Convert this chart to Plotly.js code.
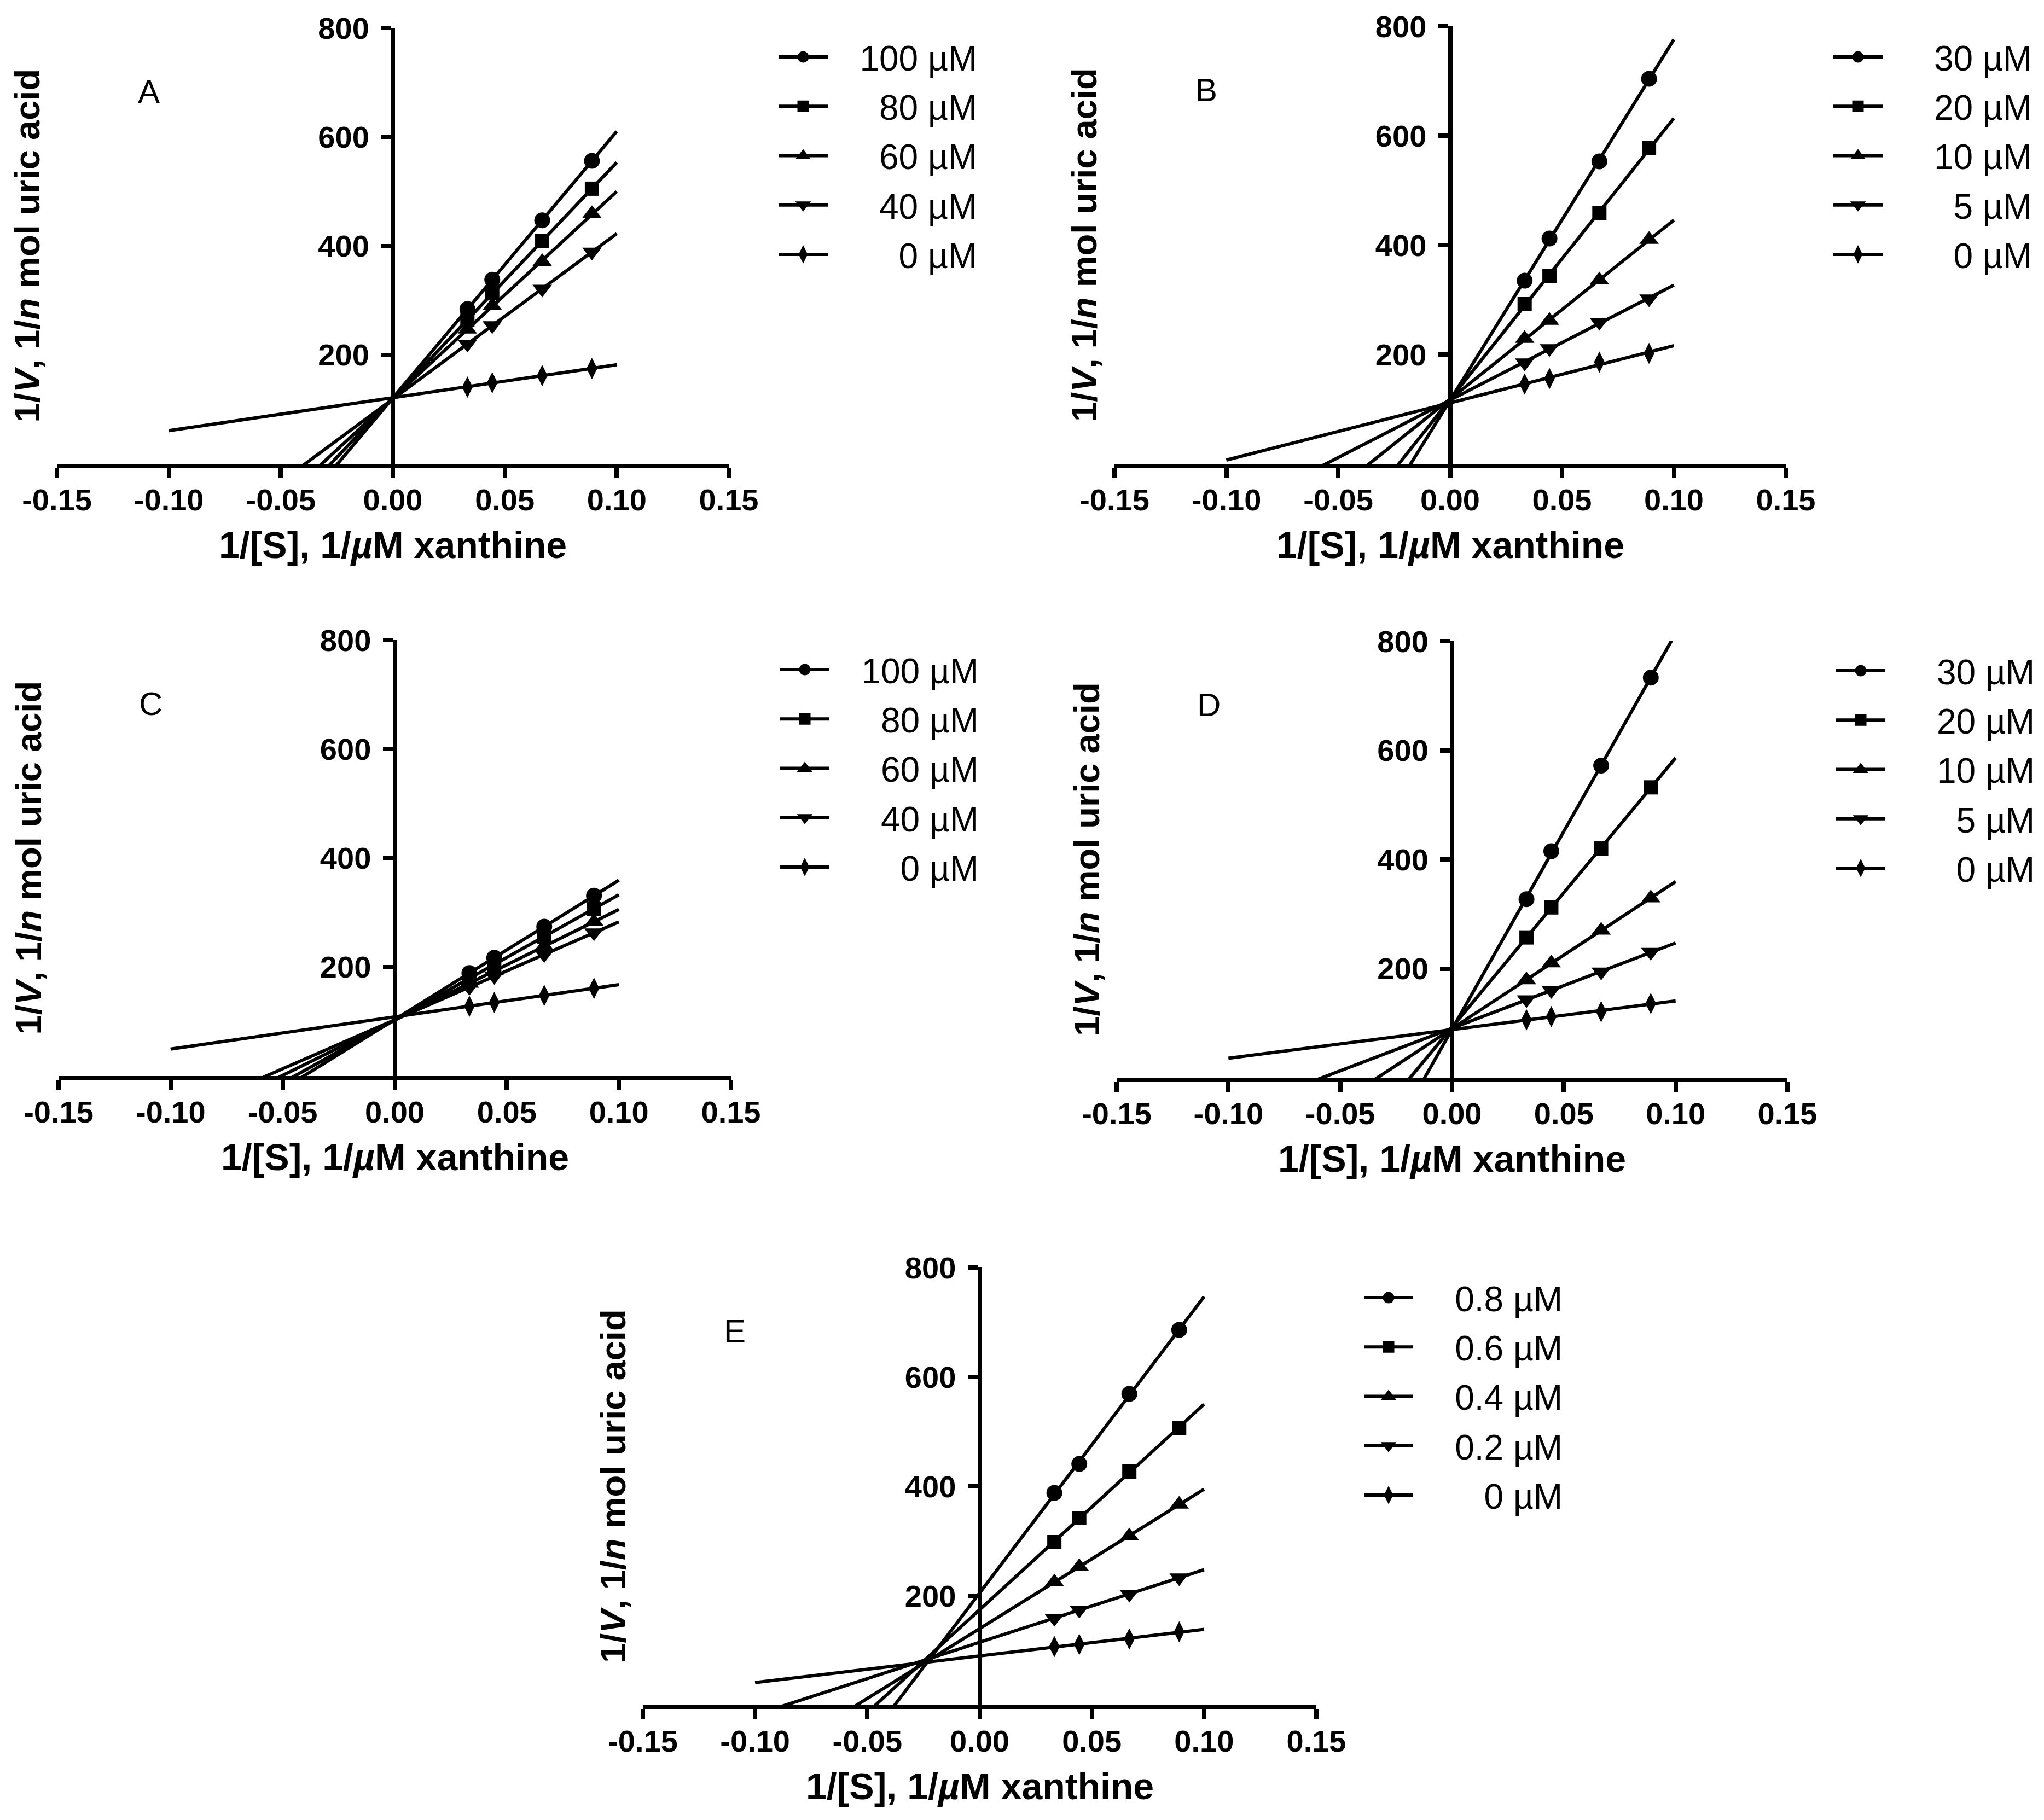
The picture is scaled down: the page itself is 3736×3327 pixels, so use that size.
<!DOCTYPE html>
<html>
<head>
<meta charset="utf-8">
<script src="https://cdn.plot.ly/plotly-3.0.1.min.js"></script>
<style>
  html, body { margin: 0; padding: 0; background: #fff; }
  #chart { width: 3736px; height: 3327px; }
</style>
</head>
<body>
<div id="chart"></div>
<script>
// 1/[S] for 30, 22.5, 15 and 11.25 uM xanthine
const invS = [0.0333, 0.0444, 0.0667, 0.0889];

const xTickVals = [-0.15, -0.10, -0.05, 0, 0.05, 0.10, 0.15];
const xTickText = ['-0.15', '-0.10', '-0.05', '0.00', '0.05', '0.10', '0.15'];
const yTickVals = [200, 400, 600, 800];

// legend labels; figure/punctuation spaces pad them so they end flush right
const labelsAC = ['100 µM', '80 µM', '60 µM', '40 µM', '0 µM'];
const labelsBD = ['30 µM', '20 µM', '10 µM', '5 µM', '0 µM'];
const labelsE = ['0.8 µM', '0.6 µM', '0.4 µM', '0.2 µM', '0 µM'];

// 1/V, one row per inhibitor concentration
const valuesA = [
  [284, 338, 447, 556],
  [264, 313, 409, 505],
  [247, 290, 371, 459],
  [220, 254, 321, 389],
  [141, 149, 162, 175]
];
const valuesB = [
  [335, 412, 553, 704],
  [292, 344, 458, 577],
  [229, 262, 336, 410],
  [185, 211, 259, 302],
  [146, 156, 186, 202]
];
const valuesC = [
  [189, 217, 274, 331],
  [179, 205, 256, 307],
  [170, 193, 238, 283],
  [163, 183, 223, 263],
  [128, 135, 148, 161]
];
const valuesD = [
  [327, 415, 572, 733],
  [257, 312, 420, 532],
  [179, 210, 270, 329],
  [143, 160, 194, 230],
  [106, 112, 121, 136]
];
const valuesE = [
  [388, 441, 569, 686],
  [298, 342, 427, 507],
  [225, 253, 309, 367],
  [159, 174, 203, 233],
  [107, 111, 121, 134]
];

// fitted lines are drawn over this 1/[S] span
const fitSpan = [-0.10, 0.10];

const symbols = ['circle', 'square', 'triangle-up', 'triangle-down', 'diamond-tall'];
const markerSizes = [29, 26, 31, 31, 28];

const W = 3736, H = 3327;
const FONT = 'Liberation Sans, Arial, sans-serif';
const FIG = '\u2007', PUNC = '\u2008';

// pad a label to the width of "100 µM" plus a lead gap after the symbol
function padLabel(s) {
  const num = s.split(' ')[0];
  let pad = FIG + PUNC;
  const digits = num.replace('.', '').length;
  const hasDot = num.indexOf('.') >= 0;
  // target: 3 digits, no dot
  if (hasDot) pad += PUNC;
  for (let i = digits + (hasDot ? 1 : 0); i < 3; i++) pad += FIG;
  return pad + s;
}

// plot boxes in pixels: [left, right], [top, bottom], legend anchor
const boxes = [
  {name: 'A', labels: labelsAC, values: valuesA, x: [104, 1332], y: [51, 848], leg: [1418, 56]},
  {name: 'B', labels: labelsBD, values: valuesB, x: [2037, 3264], y: [48, 848], leg: [3346, 56]},
  {name: 'C', labels: labelsAC, values: valuesC, x: [107, 1336], y: [1170, 1967], leg: [1421, 1176]},
  {name: 'D', labels: labelsBD, values: valuesD, x: [2041, 3267], y: [1172, 1970], leg: [3351, 1178]},
  {name: 'E', labels: labelsE, values: valuesE, x: [1175, 2406], y: [2317, 3117], leg: [2488, 2324]}
];

function linFit(xs, ys) {
  const n = xs.length;
  const mx = xs.reduce((a, b) => a + b, 0) / n;
  const my = ys.reduce((a, b) => a + b, 0) / n;
  let sxy = 0, sxx = 0;
  for (let i = 0; i < n; i++) {
    sxy += (xs[i] - mx) * (ys[i] - my);
    sxx += (xs[i] - mx) * (xs[i] - mx);
  }
  const slope = sxy / sxx;
  return {slope: slope, icpt: my - slope * mx};
}

const data = [];
const layout = {
  width: W, height: H,
  margin: {l: 0, r: 0, t: 0, b: 0},
  paper_bgcolor: '#fff', plot_bgcolor: '#fff',
  showlegend: true,
  font: {family: FONT, color: '#000'},
  annotations: []
};

boxes.forEach((b, k) => {
  const n = k + 1;
  const xa = 'x' + (n > 1 ? n : ''), ya = 'y' + (n > 1 ? n : '');
  const legName = 'legend' + (n > 1 ? n : '');
  const xd = [b.x[0] / W, b.x[1] / W];
  const yd = [1 - b.y[1] / H, 1 - b.y[0] / H];

  layout['xaxis' + (n > 1 ? n : '')] = {
    domain: xd, range: [-0.15, 0.15], anchor: ya,
    tickmode: 'array', tickvals: xTickVals, ticktext: xTickText,
    ticks: 'outside', ticklen: 18, tickwidth: 8, tickcolor: '#000',
    showline: true, linewidth: 8, linecolor: '#000',
    showgrid: false, zeroline: false, fixedrange: true,
    ticklabelstandoff: -8,
    tickfont: {family: FONT, size: 56, weight: 'bold', color: '#000'}
  };
  layout['yaxis' + (n > 1 ? n : '')] = {
    domain: yd, range: [0, 800], anchor: 'free', position: (xd[0] + xd[1]) / 2,
    tickmode: 'array', tickvals: yTickVals,
    ticks: 'outside', ticklen: 18, tickwidth: 8, tickcolor: '#000',
    showline: true, linewidth: 8, linecolor: '#000',
    showgrid: false, zeroline: false, fixedrange: true,
    ticklabelstandoff: 10,
    tickfont: {family: FONT, size: 56, weight: 'bold', color: '#000'}
  };
  layout[legName] = {
    x: b.leg[0] / W, y: 1 - b.leg[1] / H, xanchor: 'left', yanchor: 'top',
    bgcolor: 'rgba(0,0,0,0)', borderwidth: 0,
    font: {family: FONT, size: 64, color: '#000'},
    itemwidth: 90, tracegroupgap: 4, traceorder: 'grouped',
    itemclick: false, itemdoubleclick: false
  };

  b.values.forEach((ys, j) => {
    const fit = linFit(invS, ys);
    const mk = {symbol: symbols[j], size: markerSizes[j], color: '#000', line: {width: 0}};
    // regression line
    data.push({
      x: fitSpan, y: fitSpan.map(v => fit.icpt + fit.slope * v),
      xaxis: xa, yaxis: ya, mode: 'lines', showlegend: false, hoverinfo: 'skip',
      line: {color: '#000', width: 6}
    });
    // measured points
    data.push({
      x: invS, y: ys, xaxis: xa, yaxis: ya, mode: 'markers', showlegend: false,
      marker: mk
    });
    // legend entry only (marker outline makes the capped legend symbol larger)
    data.push({
      x: [null], y: [null], xaxis: xa, yaxis: ya, mode: 'lines+markers',
      name: padLabel(b.labels[j]), legend: legName, legendgroup: b.name + j,
      marker: {symbol: symbols[j], size: 16, color: '#000', line: {width: 5, color: '#000'}},
      line: {color: '#000', width: 6}
    });
  });

  // y title, x title, panel letter
  layout.annotations.push({
    xref: 'paper', yref: 'paper',
    x: (b.x[0] - 55) / W, y: 1 - ((b.y[0] + b.y[1]) / 2) / H,
    xanchor: 'center', yanchor: 'middle', textangle: -90, showarrow: false,
    text: '1/<i>V</i>, 1/<i>n</i> mol uric acid',
    font: {family: FONT, size: 65, weight: 'bold', color: '#000'}
  });
  layout.annotations.push({
    xref: 'paper', yref: 'paper',
    x: ((b.x[0] + b.x[1]) / 2) / W, y: 1 - (b.y[1] + 148) / H,
    xanchor: 'center', yanchor: 'middle', showarrow: false,
    text: '1/[S], 1/<i>µ</i>M xanthine',
    font: {family: FONT, size: 68, weight: 'bold', color: '#000'}
  });
  layout.annotations.push({
    xref: 'paper', yref: 'paper',
    x: (b.x[0] + 168) / W, y: 1 - (b.y[0] + 116) / H,
    xanchor: 'center', yanchor: 'middle', showarrow: false,
    text: b.name,
    font: {family: FONT, size: 60, color: '#000'}
  });
});

Plotly.newPlot('chart', data, layout, {displayModeBar: false, staticPlot: true});
</script>
</body>
</html>
